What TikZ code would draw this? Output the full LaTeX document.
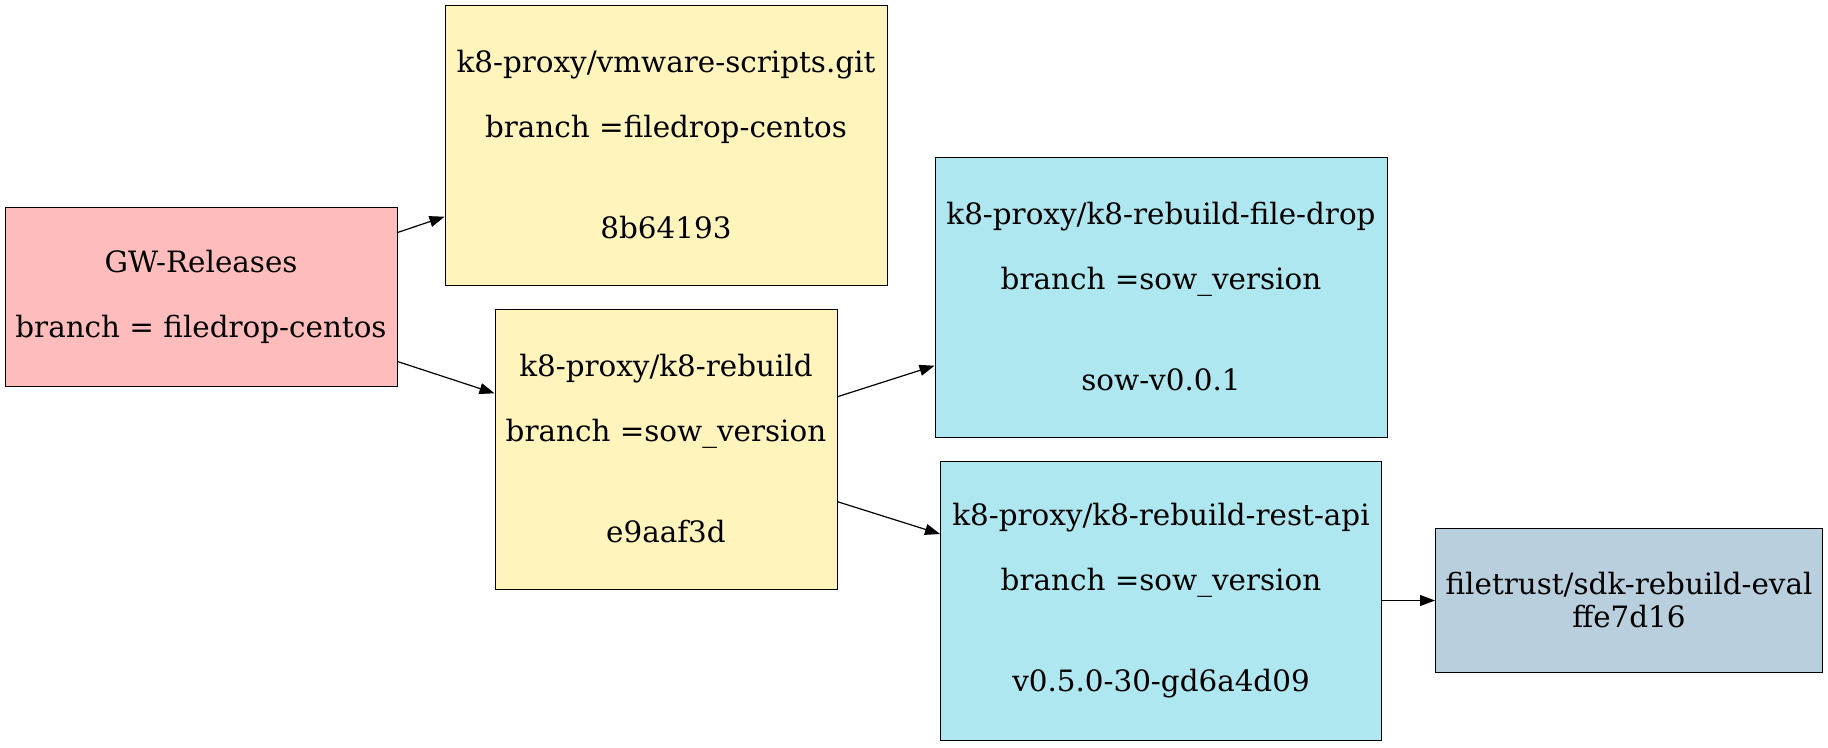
\documentclass[tikz,border=0pt]{standalone}
\usepackage{fontspec}
\setmainfont{DejaVu Serif}
\usetikzlibrary{arrows.meta}
\definecolor{relpink}{RGB}{255,188,188}
\definecolor{repoyellow}{RGB}{255,244,187}
\definecolor{repocyan}{RGB}{174,231,239}
\definecolor{sdkblue}{RGB}{185,207,222}
\tikzset{
  repo/.style={draw, line width=1pt, rectangle, align=center, inner sep=0pt,
    font=\fontsize{29.4}{33}\selectfont},
  link/.style={line width=1.2pt, -{Triangle[length=15pt,width=11pt]}}
}
\begin{document}
\begin{tikzpicture}[x=1pt,y=-1pt]
  \useasboundingbox (0,0) rectangle (1828,747);
  \node[repo, fill=relpink, minimum width=392pt, minimum height=179pt] (gw) at (201,297)
    {GW-Releases\\[32pt]branch = filedrop-centos};
  \node[repo, fill=repoyellow, minimum width=442pt, minimum height=280pt] (vm) at (666,145)
    {k8-proxy/vmware-scripts.git\\[32pt]branch =filedrop-centos\\[68pt]8b64193};
  \node[repo, fill=repoyellow, minimum width=342pt, minimum height=280pt] (kr) at (666,449)
    {k8-proxy/k8-rebuild\\[32pt]branch =sow\_version\\[68pt]e9aaf3d};
  \node[repo, fill=repocyan, minimum width=452pt, minimum height=280pt] (fd) at (1161,297)
    {k8-proxy/k8-rebuild-file-drop\\[32pt]branch =sow\_version\\[68pt]sow-v0.0.1};
  \node[repo, fill=repocyan, minimum width=441pt, minimum height=279pt] (ra) at (1161,600.5)
    {k8-proxy/k8-rebuild-rest-api\\[32pt]branch =sow\_version\\[68pt]v0.5.0-30-gd6a4d09};
  \node[repo, fill=sdkblue, minimum width=387pt, minimum height=144pt] (ft) at (1629,600.5)
    {filetrust/sdk-rebuild-eval\\ffe7d16};
  \path[link] ([yshift=64.5pt]gw.east) edge ([yshift=-71.7pt]vm.west);
  \path[link] ([yshift=-64.5pt]gw.east) edge ([yshift=55.7pt]kr.west);
  \path[link] ([yshift=52.3pt]kr.east) edge ([yshift=-68.7pt]fd.west);
  \path[link] ([yshift=-52.7pt]kr.east) edge ([yshift=66.5pt]ra.west);
  \path[link] (ra) edge (ft);
\end{tikzpicture}
\end{document}
